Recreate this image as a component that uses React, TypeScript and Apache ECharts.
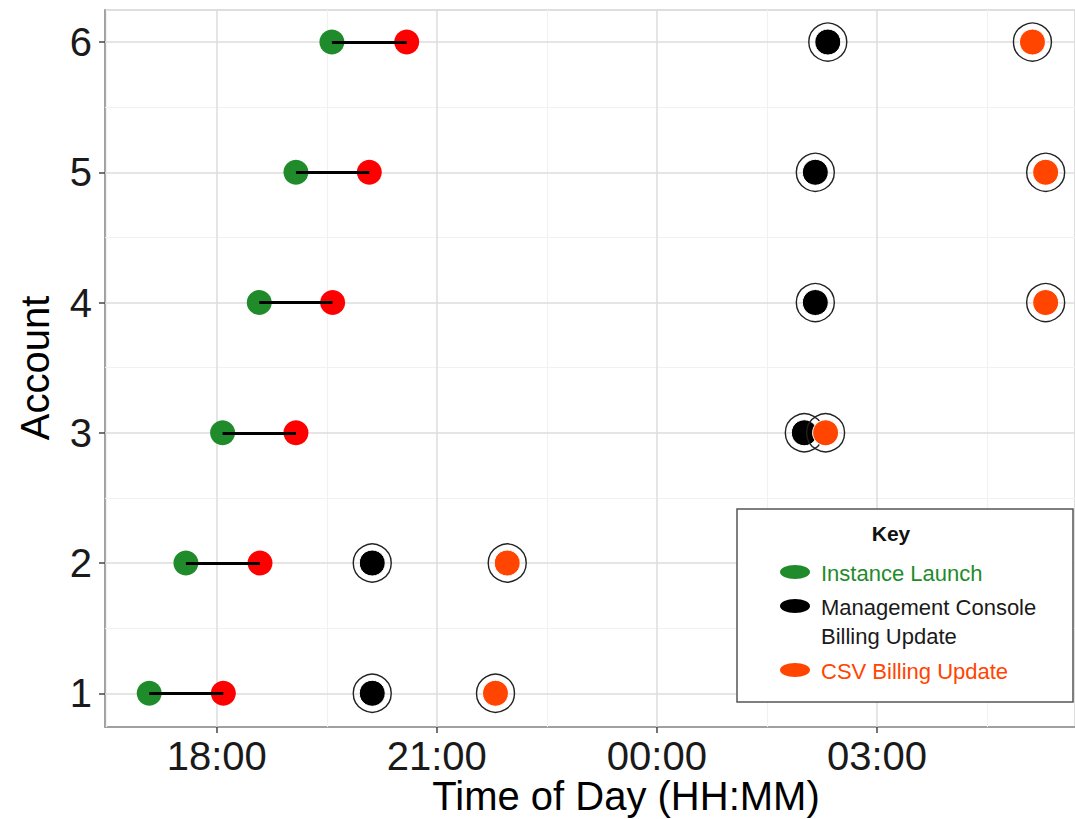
import React, { useEffect, useRef } from "react";
import * as echarts from "echarts";

// Account rows
const accounts = [1, 2, 3, 4, 5, 6];
// Times in hours since midnight of the first day (values > 24 are after midnight)
const instanceLaunch = [17.08, 17.58, 18.08, 18.58, 19.08, 19.57];
const instanceRunning = [18.09, 18.59, 19.08, 19.58, 20.08, 20.59];
const consoleBillingUpdate = [20.12, 20.12, 26.01, 26.16, 26.16, 26.33];
const csvBillingUpdate = [21.8, 21.96, 26.3, 29.3, 29.3, 29.12];

// Axis ticks
const xTicks = [18, 21, 24, 27];
const xMinorTicks = [16.5, 19.5, 22.5, 25.5, 28.5];
const yTicks = [1, 2, 3, 4, 5, 6];
const yMinorTicks = [1.5, 2.5, 3.5, 4.5, 5.5];
const xMin = 16.477;
const xMax = 29.7;
const yMin = 0.741;
const yMax = 6.246;

const legendTitle = "Key";
const legendLabels = ["Instance Launch", "Management Console\nBilling Update", "CSV Billing Update"];

const GREEN = "#1f8b2b";
const RED = "#ff0000";
const BLACK = "#000000";
const ORANGE = "#ff4500";
const FONT = "Liberation Sans, Arial, sans-serif";

const fmt = (v: number) => String(Math.round(v) % 24).padStart(2, "0") + ":00";

export default function App() {
  const ref = useRef<HTMLDivElement>(null);
  useEffect(() => {
    if (!ref.current) return;
    const chart = echarts.init(ref.current, null, { renderer: "svg" });
    const pts = (xs: number[]) => xs.map((x, i) => [x, accounts[i]]);
    const major = "#dddddd";
    const minor = "#f1f1f1";
    const gridLines = [
      ...xMinorTicks.map((v) => ({ xAxis: v, lineStyle: { color: minor, width: 1.2, type: "solid" } })),
      ...yMinorTicks.map((v) => ({ yAxis: v, lineStyle: { color: minor, width: 1.2, type: "solid" } })),
      ...xTicks.map((v) => ({ xAxis: v, lineStyle: { color: major, width: 1.5, type: "solid" } })),
      ...yTicks.map((v) => ({ yAxis: v, lineStyle: { color: major, width: 1.5, type: "solid" } })),
    ];
    const legendColors = [GREEN, BLACK, ORANGE];
    const legendRowY = [573, 607, 671];
    const legendTextColors = [GREEN, "#1a1a1a", ORANGE];

    chart.setOption({
      animation: false,
      backgroundColor: "#ffffff",
      textStyle: { fontFamily: FONT },
      grid: {
        left: 105,
        right: 0,
        top: 10,
        bottom: 92,
        show: true,
        borderColor: "#d4d4d4",
        borderWidth: 1.5,
        backgroundColor: "#ffffff",
      },
      xAxis: {
        type: "value",
        min: xMin,
        max: xMax,
        axisLine: { show: true, lineStyle: { color: "#a0a0a0", width: 2 } },
        axisTick: { show: true, customValues: xTicks, length: 6, lineStyle: { color: "#444", width: 1.5 } },
        axisLabel: {
          customValues: xTicks,
          formatter: (v: number) => fmt(v),
          fontSize: 40,
          color: "#1a1a1a",
          fontFamily: FONT,
          margin: 9,
        },
        splitLine: { show: false },
      },
      yAxis: {
        type: "value",
        min: yMin,
        max: yMax,
        axisLine: { show: true, lineStyle: { color: "#a0a0a0", width: 2 } },
        axisTick: { show: true, customValues: yTicks, length: 6, lineStyle: { color: "#444", width: 1.5 } },
        axisLabel: {
          customValues: yTicks,
          formatter: (v: number) => String(Math.round(v)),
          fontSize: 40,
          color: "#1a1a1a",
          fontFamily: FONT,
          margin: 13,
        },
        splitLine: { show: false },
      },
      series: [
        {
          type: "scatter",
          name: "grid",
          data: [],
          z: 1,
          silent: true,
          markLine: {
            silent: true,
            z: 1,
            symbol: ["none", "none"],
            label: { show: false },
            data: gridLines,
          },
        },
        {
          type: "scatter",
          name: "Instance Launch",
          data: pts(instanceLaunch),
          symbolSize: 25,
          itemStyle: { color: GREEN, opacity: 1 },
          z: 3,
        },
        {
          type: "scatter",
          name: "Instance Running",
          data: pts(instanceRunning),
          symbolSize: 25,
          itemStyle: { color: RED, opacity: 1 },
          z: 3,
        },
        {
          type: "lines",
          coordinateSystem: "cartesian2d",
          data: accounts.map((a, i) => ({ coords: [[instanceLaunch[i], a], [instanceRunning[i], a]] })),
          lineStyle: { color: "#000", width: 2.8, opacity: 1 },
          z: 4,
          silent: true,
        },
        {
          type: "scatter",
          name: "Management Console ring",
          data: pts(consoleBillingUpdate),
          symbolSize: 38,
          itemStyle: { color: "rgba(0,0,0,0)", borderColor: "#222", borderWidth: 1.4, opacity: 1 },
          z: 5,
        },
        {
          type: "scatter",
          name: "Management Console Billing Update",
          data: pts(consoleBillingUpdate),
          symbolSize: 26,
          itemStyle: { color: BLACK, borderColor: "#fff", borderWidth: 1, opacity: 1 },
          z: 5,
        },
        {
          type: "scatter",
          name: "CSV ring",
          data: pts(csvBillingUpdate),
          symbolSize: 38,
          itemStyle: { color: "rgba(0,0,0,0)", borderColor: "#222", borderWidth: 1.4, opacity: 1 },
          z: 5,
        },
        {
          type: "scatter",
          name: "CSV Billing Update",
          data: pts(csvBillingUpdate),
          symbolSize: 26,
          itemStyle: { color: ORANGE, borderColor: "#fff", borderWidth: 1, opacity: 1 },
          z: 5,
        },
      ],
      graphic: [
        {
          type: "text",
          x: 35,
          y: 368,
          rotation: Math.PI / 2,
          style: {
            text: "Account",
            fontSize: 40,
            fontFamily: FONT,
            fill: "#000",
            align: "center",
            verticalAlign: "middle",
          },
          z: 10,
        },
        {
          type: "text",
          x: 626,
          y: 796,
          style: {
            text: "Time of Day (HH:MM)",
            fontSize: 40,
            fontFamily: FONT,
            fill: "#000",
            align: "center",
            verticalAlign: "middle",
          },
          z: 10,
        },
        {
          type: "rect",
          shape: { x: 737, y: 509, width: 336, height: 193 },
          style: { fill: "#ffffff", stroke: "#555555", lineWidth: 1.5 },
          z: 20,
        },
        {
          type: "text",
          x: 891,
          y: 533,
          style: {
            text: legendTitle,
            fontSize: 21,
            fontWeight: "bold",
            fontFamily: FONT,
            fill: "#111",
            align: "center",
            verticalAlign: "middle",
          },
          z: 21,
        },
        ...legendLabels.map((label, i) => ({
          type: "ellipse",
          shape: { cx: 795, cy: legendRowY[i] - 1, rx: 15, ry: 7 },
          style: { fill: legendColors[i] },
          z: 21,
        })),
        ...legendLabels.map((label, i) => ({
          type: "text",
          x: 821,
          y: legendRowY[i],
          style: {
            text: label,
            fontSize: 22,
            lineHeight: 29,
            fontFamily: FONT,
            fill: legendTextColors[i],
            align: "left",
            verticalAlign: i === 1 ? "top" : "middle",
            ...(i === 1 ? { y: -14.5 } : {}),
          },
          z: 21,
        })),
      ],
    });
    return () => chart.dispose();
  }, []);
  return (
    <div
      ref={ref}
      style={{ position: "absolute", left: 0, top: 0, width: 1075, height: 819 }}
    />
  );
}
